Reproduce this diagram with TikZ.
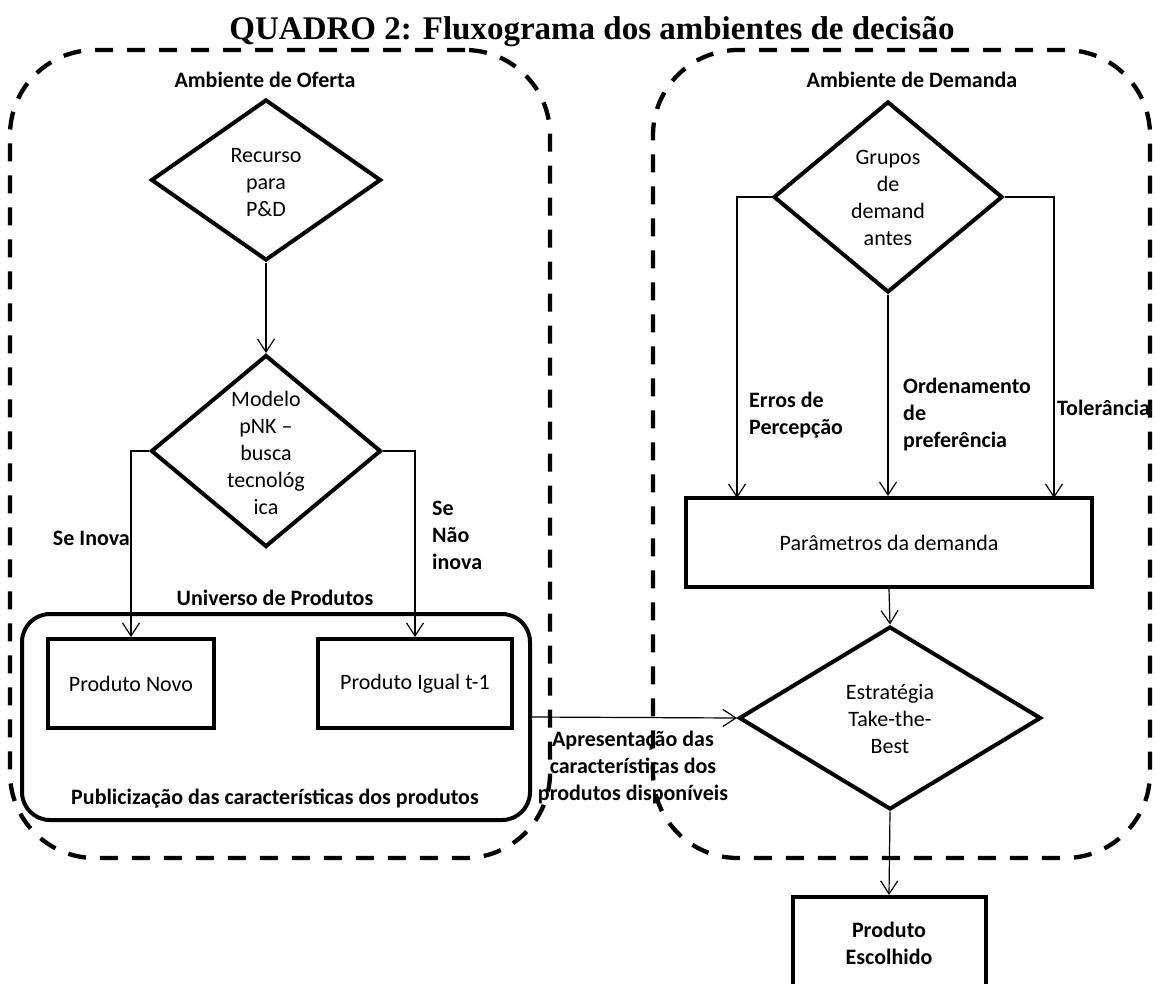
\documentclass[tikz,border=0pt]{standalone}
\usepackage{fontspec}
\setmainfont{Carlito}
\newfontfamily\titlefont{Liberation Serif}
\usetikzlibrary{shapes.geometric,arrows.meta}
\begin{document}
\begin{tikzpicture}[x=1pt,y=-1pt,
  every node/.style={font=\fontsize{22}{27}\selectfont},
  dbox/.style={draw, dash pattern=on 18pt off 14pt, line width=4.3pt, rounded corners=85pt, inner sep=0pt},
  dia/.style={draw, diamond, line width=4pt, inner sep=0pt},
  box/.style={draw, rectangle, line width=4pt, inner sep=0pt},
  lbl/.style={font=\fontsize{22}{27}\selectfont\bfseries, align=left, inner sep=0pt},
  dtext/.style={align=center, inner sep=0pt},
  arr/.style={line width=1.2pt, -{Straight Barb[length=13pt,width=17pt]}}]
\useasboundingbox (0,0) rectangle (1155,983);

% title
\node[font=\titlefont\fontsize{33}{38}\selectfont\bfseries, anchor=base, inner sep=0pt] (title) at (592,39) {QUADRO 2: Fluxograma dos ambientes de decisão};

% labels (drawn before dashed frames)
\node[lbl, align=center] (apres) at (633,767) {Apresentação das\\características dos\\produtos disponíveis};

% dashed environments
\node[dbox, minimum width=540pt, minimum height=808pt] (oferta) at (280,454) {};
\node[dbox, minimum width=497pt, minimum height=808pt] (demanda) at (901.5,454) {};

\node[lbl] (amb1) at (265,80) {Ambiente de Oferta};
\node[lbl] (amb2) at (912,80) {Ambiente de Demanda};

% supply side
\node[dia, minimum width=230pt, minimum height=161pt] (d1) at (266,180) {};
\node[dtext] (d1t) at (266,183) {Recurso\\para\\P\&D};
\node[dia, minimum width=230pt, minimum height=192pt] (d2) at (266,451) {};
\node[dtext] (d2t) at (266,453) {Modelo\\pNK –\\busca\\tecnológ\\ica};

\node[lbl, anchor=east] (seinova) at (130,538) {Se Inova};
\node[lbl, anchor=west] (senao) at (432,535) {Se\\Não\\inova};

\node[draw, line width=4pt, rounded corners=28pt, minimum width=508pt, minimum height=206pt] (uni) at (276,717) {};
\node[lbl] (unit) at (275,598) {Universo de Produtos};
\node[box, minimum width=166pt, minimum height=89pt] (pn) at (131,683.5) {Produto Novo};
\node[box, minimum width=194pt, minimum height=89pt] (pi) at (415,683.5) {Produto Igual t-1};
\node[lbl] (pub) at (275,799) {Publicização das características dos produtos};

% demand side
\node[dia, minimum width=229pt, minimum height=191pt] (d3) at (888,197) {};
\node[dtext] (d3t) at (888,198) {Grupos\\de\\demand\\antes};

\node[lbl, anchor=west] (erros) at (749,415) {Erros de\\Percepção};
\node[lbl, anchor=west] (orden) at (903,415) {Ordenamento\\de\\preferência};
\node[lbl, anchor=west] (tol) at (1057,408) {Tolerância};

\node[box, minimum width=406pt, minimum height=89pt] (par) at (889,542.5) {Parâmetros da demanda};
\coordinate (pl) at (737,498);
\coordinate (pr) at (1054,498);

\node[dia, minimum width=302pt, minimum height=183pt] (d4) at (890,718) {};
\node[dtext] (d4t) at (890,719) {Estratégia\\Take-the-\\Best};

\node[box, minimum width=193pt, minimum height=120pt] (esc) at (889,957) {};
\node[lbl, align=center] (esct) at (889,943) {Produto\\Escolhido};

% connectors
\draw[arr] (d1.south) -- (d2.north);
\draw[arr] (d2.west) -| (pn.north);
\draw[arr] (d2.east) -| (pi.north);
\draw[arr] (d3.west) -| (pl);
\draw[arr] (d3.east) -| (pr);
\draw[arr] (d3.south) -- (d3.south |- par.north);
\draw[arr] (par.south) -- (d4.north);
\draw[arr] (uni.east) -- (d4.west);
\draw[arr] (d4.south) -- (esc.north);
\end{tikzpicture}
\end{document}
